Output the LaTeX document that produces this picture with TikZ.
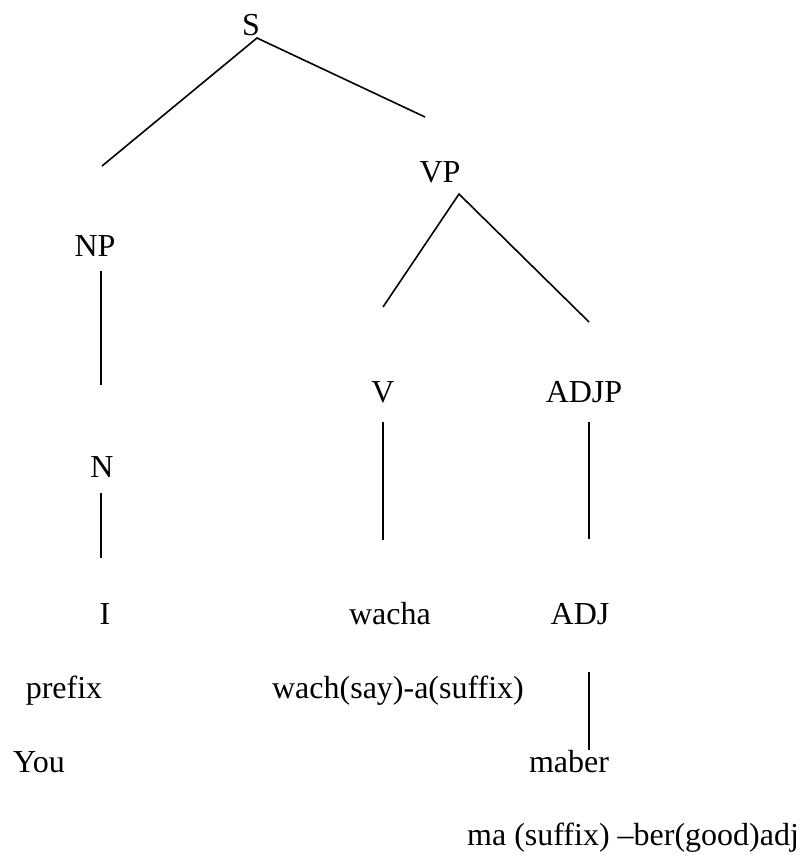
\documentclass[tikz,border=0pt]{standalone}
\usepackage{fontspec}
\setmainfont{Liberation Serif}
\begin{document}
\begin{tikzpicture}[x=1pt,y=-1pt,
  lbl/.style={anchor=base,inner sep=0pt,font=\fontsize{32}{38}\selectfont},
  branch/.style={line width=1.6pt,black}]
\useasboundingbox[fill=white] (0,0) rectangle (803,855);

% category and word labels
\node[lbl] (S)     at (251,35)  {S};
\node[lbl] (VP)    at (440,182) {VP};
\node[lbl] (NP)    at (95,256)  {NP};
\node[lbl] (V)     at (383,402) {V};
\node[lbl] (ADJP)  at (584,402) {ADJP};
\node[lbl] (N)     at (102,477) {N};
\node[lbl] (I)     at (105,624) {I};
\node[lbl] (wacha) at (390,624) {wacha};
\node[lbl] (ADJ)   at (580,624) {ADJ};
\node[lbl] (prefix) at (64,698) {prefix};
\node[lbl] (wachgloss) at (398,698) {wach(say)-a(suffix)};
\node[lbl] (You)   at (39,772)  {You};
\node[lbl] (maber) at (569,772) {maber};
\node[lbl,anchor=base west] (mabergloss) at (467,845) {ma (suffix) –ber(good)adj};

% branch end points
\coordinate (S-a)    at (257,38);
\coordinate (S-l)    at (102,166);
\coordinate (S-r)    at (425,117);
\coordinate (VP-a)   at (459,194);
\coordinate (VP-l)   at (383,307);
\coordinate (VP-r)   at (589,322);
\coordinate (NP-t)   at (101,271);
\coordinate (NP-b)   at (101,385);
\coordinate (N-t)    at (101,493);
\coordinate (N-b)    at (101,558);
\coordinate (V-t)    at (383,422);
\coordinate (V-b)    at (383,540);
\coordinate (ADJP-t) at (589,422);
\coordinate (ADJP-b) at (589,539);
\coordinate (ADJ-t)  at (589,672);
\coordinate (ADJ-b)  at (589,750);

% branches
\draw[branch] (S-l) -- (S-a) -- (S-r);
\draw[branch] (VP-l) -- (VP-a) -- (VP-r);
\draw[branch] (NP-t) -- (NP-b);
\draw[branch] (N-t) -- (N-b);
\draw[branch] (V-t) -- (V-b);
\draw[branch] (ADJP-t) -- (ADJP-b);
\draw[branch] (ADJ-t) -- (ADJ-b);
\end{tikzpicture}
\end{document}
